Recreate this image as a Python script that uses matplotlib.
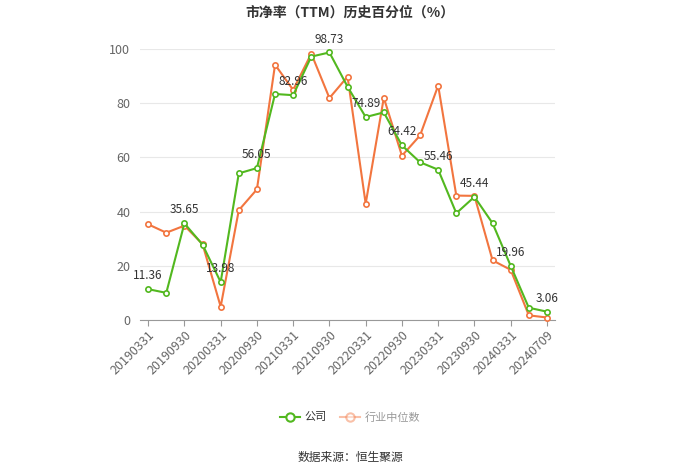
import matplotlib
matplotlib.use("Agg")
import matplotlib.pyplot as plt
from matplotlib.lines import Line2D

plt.rcParams['font.family'] = ['Noto Sans CJK SC', 'DejaVu Sans']

dates = ["20190331", "20190630", "20190930", "20191231", "20200331", "20200630",
         "20200930", "20201231", "20210331", "20210630", "20210930", "20211231",
         "20220331", "20220630", "20220930", "20221231", "20230331", "20230630",
         "20230930", "20231231", "20240331", "20240630", "20240709"]
company = [11.36, 10.0, 35.65, 27.8, 13.98, 54.1, 56.05, 83.4, 82.96, 97.2, 98.73, 86.1,
           74.89, 76.6, 64.42, 58.2, 55.46, 39.4, 45.44, 35.7, 19.96, 4.5, 3.06]
industry = [35.3, 32.2, 34.8, 28.0, 4.9, 40.5, 48.2, 94.2, 84.9, 98.3, 81.9, 89.8,
            42.9, 82.0, 60.6, 68.1, 86.5, 45.9, 45.8, 22.0, 18.5, 1.7, 0.9]
labeled_idx = [0, 2, 4, 6, 8, 10, 12, 14, 16, 18, 20, 22]
tick_idx = [0, 2, 4, 6, 8, 10, 12, 14, 16, 18, 20, 22]
yticks = [0, 20, 40, 60, 80, 100]

green = '#52b81f'
orange = '#f2753f'

fig = plt.figure(figsize=(7.0, 4.74), dpi=100)
ax = fig.add_axes([0.2, 0.325, 0.593, 0.5716])

x = list(range(len(dates)))
ax.plot(x, industry, color=orange, lw=1.5, marker='o', ms=3.8, mfc='white',
        mec=orange, mew=1.2, zorder=3, clip_on=False)
ax.plot(x, company, color=green, lw=1.5, marker='o', ms=3.8, mfc='white',
        mec=green, mew=1.2, zorder=4, clip_on=False)

for i in labeled_idx:
    ax.annotate(f"{company[i]:.2f}", (x[i], company[i]), xytext=(0, 5),
                textcoords='offset points', ha='center', va='bottom',
                fontsize=8.5, color='#333333', zorder=5)

ax.set_xlim(-0.45, len(dates) - 1 + 0.45)
ax.set_ylim(0, 100)
ax.set_yticks(yticks)
ax.set_yticklabels([str(v) for v in yticks], fontsize=9, color='#666666')
ax.set_xticks([x[i] for i in tick_idx])
ax.set_xticklabels([dates[i] for i in tick_idx], rotation=45, ha='right',
                   rotation_mode='anchor', fontsize=9, color='#666666')
ax.grid(axis='y', color='#e8e8e8', lw=0.8)
ax.set_axisbelow(True)
for s in ['top', 'right', 'left']:
    ax.spines[s].set_visible(False)
ax.spines['bottom'].set_color('#999999')
ax.tick_params(axis='y', length=0, pad=7)
ax.tick_params(axis='x', length=4, color='#999999', pad=2)

fig.text(0.5, 0.974, "市净率（TTM）历史百分位（%）", ha='center', va='center',
         fontsize=10, fontweight='bold', color='#333333')

handles = [Line2D([0], [0], color=green, lw=1.5, marker='o', ms=6, mfc='white', mec=green, mew=1.5),
           Line2D([0], [0], color=orange, lw=1.5, marker='o', ms=6, mfc='white', mec=orange, mew=1.5, alpha=0.45)]
leg = fig.legend(handles, ["公司", "行业中位数"], loc='center', bbox_to_anchor=(0.5, 0.12),
                 ncol=2, frameon=False, fontsize=8, handlelength=1.8, columnspacing=1.2,
                 handletextpad=0.4)
leg.get_texts()[0].set_color('#333333')
leg.get_texts()[1].set_color('#999999')

fig.text(0.5, 0.034, "数据来源：恒生聚源", ha='center', va='center', fontsize=8.5, color='#333333')

fig.savefig("out.png", dpi=100)
